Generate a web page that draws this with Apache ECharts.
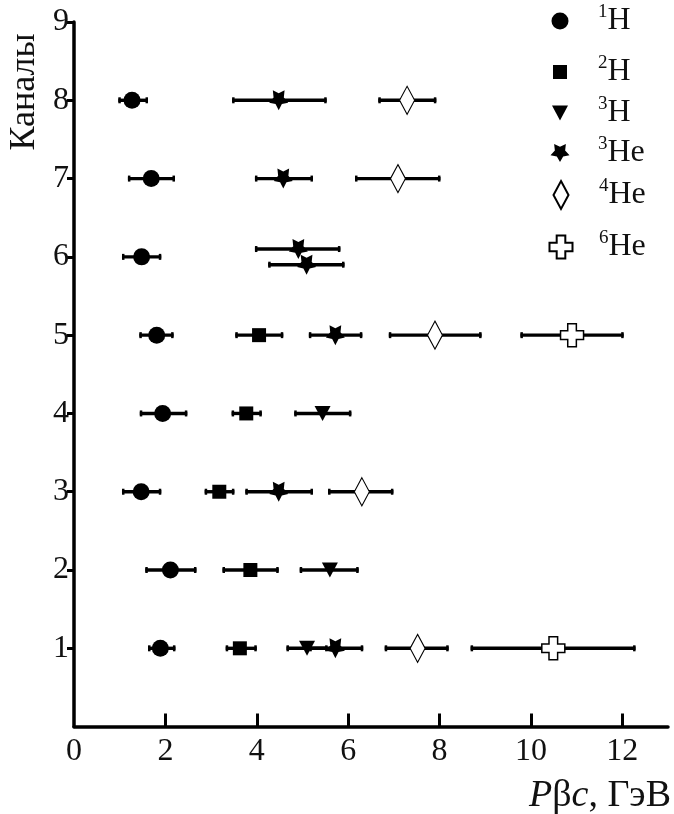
<!DOCTYPE html>
<html>
<head>
<meta charset="utf-8">
<script src="https://cdn.jsdelivr.net/npm/echarts@6/dist/echarts.min.js"></script>
<style>
  html, body { margin: 0; padding: 0; background: #fff; }
  #chart { width: 674px; height: 814px; }
</style>
</head>
<body>
<div id="chart"></div>
<script>
// Axis tick positions and labels
const xTickLabels = [0, 2, 4, 6, 8, 10, 12];
const xTickMarks = [2, 4, 6, 8, 10, 12];
const yTickLabels = [1, 2, 3, 4, 5, 6, 7, 8, 9];

// Pβc values (GeV) with horizontal error ranges, per channel
const h1Channel = [1, 2, 3, 4, 5, 6, 7, 8];
const h1Value   = [1.89, 2.11, 1.47, 1.94, 1.81, 1.48, 1.69, 1.27];
const h1Low     = [1.62, 1.56, 1.05, 1.44, 1.43, 1.05, 1.18, 0.97];
const h1High    = [2.22, 2.68, 1.91, 2.48, 2.18, 1.91, 2.21, 1.62];

const h2Channel = [1, 2, 3, 4, 5];
const h2Value   = [3.63, 3.86, 3.18, 3.77, 4.05];
const h2Low     = [3.32, 3.25, 2.86, 3.45, 3.53];
const h2High    = [4.00, 4.48, 3.51, 4.11, 4.58];

const h3Channel = [1, 2, 4];
const h3Value   = [5.10, 5.60, 5.44];
const h3Low     = [4.65, 4.94, 4.82];
const h3High    = [5.55, 6.23, 6.07];

const he3Channel = [1, 3, 5, 6.1, 5.9, 7, 8];
const he3Value   = [5.72, 4.48, 5.72, 4.91, 5.09, 4.58, 4.48];
const he3Low     = [5.15, 3.75, 5.14, 3.96, 4.25, 3.96, 3.46];
const he3High    = [6.33, 5.23, 6.31, 5.83, 5.92, 5.23, 5.53];

const he4Channel = [1, 3, 5, 7, 8];
const he4Value   = [7.52, 6.30, 7.90, 7.09, 7.29];
const he4Low     = [6.80, 5.56, 6.89, 6.15, 6.66];
const he4High    = [8.20, 6.99, 8.92, 8.02, 7.93];

const he6Channel = [1, 5];
const he6Value   = [10.49, 10.90];
const he6Low     = [8.68, 9.77];
const he6High    = [12.29, 12.03];

// Marker shapes
function starPath() {
  const pts = [];
  for (let i = 0; i < 10; i++) {
    const a = Math.PI / 180 * (180 + i * 36);
    const r = i % 2 === 0 ? 50 : 27;
    pts.push((50 + r * Math.sin(a)).toFixed(2) + ',' + (50 - r * Math.cos(a)).toFixed(2));
  }
  return 'path://M' + pts.join(' L') + ' Z';
}
const downTriangle = 'path://M0,0 L16,0 L8,15 Z';
const plusShape = 'path://M7.5,0 H16.5 V7.5 H24 V16.5 H16.5 V24 H7.5 V16.5 H0 V7.5 H7.5 Z';

const species = [
  { name: '1H',  ch: h1Channel,  v: h1Value,  lo: h1Low,  hi: h1High,
    symbol: 'circle', size: [17, 17], fill: '#000', border: 0, legendTop: 21 },
  { name: '2H',  ch: h2Channel,  v: h2Value,  lo: h2Low,  hi: h2High,
    symbol: 'rect', size: [14, 14], fill: '#000', border: 0, legendTop: 72 },
  { name: '3H',  ch: h3Channel,  v: h3Value,  lo: h3Low,  hi: h3High,
    symbol: downTriangle, size: [16, 15], fill: '#000', border: 0, legendTop: 113 },
  { name: '3He', ch: he3Channel, v: he3Value, lo: he3Low, hi: he3High,
    symbol: starPath(), size: [19, 20], fill: '#000', border: 0, legendTop: 153 },
  { name: '4He', ch: he4Channel, v: he4Value, lo: he4Low, hi: he4High,
    symbol: 'diamond', size: [15, 28], fill: '#fff', border: 1.2, legendTop: 195 },
  { name: '6He', ch: he6Channel, v: he6Value, lo: he6Low, hi: he6High,
    symbol: plusShape, size: [23, 23], fill: '#fff', border: 1.5, legendTop: 247 }
];

const FONT = '"Liberation Serif", "Times New Roman", serif';
const INK = '#111';

const series = [];
species.forEach(function (s) {
  series.push({
    name: s.name + '-range',
    type: 'custom',
    z: 1,
    silent: true,
    encode: { x: [0, 1], y: 2 },
    data: s.ch.map(function (c, i) { return [s.lo[i], s.hi[i], c]; }),
    renderItem: function (params, api) {
      const y = api.value(2);
      const a = api.coord([api.value(0), y]);
      const b = api.coord([api.value(1), y]);
      return {
        type: 'group',
        children: [
          { type: 'line', shape: { x1: a[0], y1: a[1], x2: b[0], y2: b[1] },
            style: { stroke: '#000', lineWidth: 3.4 } },
          { type: 'rect', shape: { x: a[0], y: a[1] - 3, width: 2.5, height: 6 },
            style: { fill: '#000' } },
          { type: 'rect', shape: { x: b[0] - 2.5, y: b[1] - 3, width: 2.5, height: 6 },
            style: { fill: '#000' } }
        ]
      };
    }
  });
  series.push({
    name: s.name,
    type: 'scatter',
    z: 3,
    symbol: s.symbol,
    symbolSize: s.size,
    symbolKeepAspect: false,
    itemStyle: { color: s.fill, borderColor: '#000', borderWidth: s.border, opacity: 1 },
    data: s.ch.map(function (c, i) { return [s.v[i], c]; })
  });
});

// One legend block per species so each row sits at its own height
const legends = species.map(function (s) {
  const w = s.size[0], h = s.size[1];
  const iconX = 560;
  const textStart = 598;
  const pad = textStart - (iconX + w / 2 + 5);
  return {
    show: true,
    data: [s.name],
    orient: 'vertical',
    left: iconX - w / 2,
    top: s.legendTop - 18,
    padding: 0,
    itemWidth: w,
    itemHeight: h,
    selectedMode: false,
    formatter: function (name) {
      const m = name.match(/^(\d)(.*)$/);
      return '{sup|' + m[1] + '}{main|' + m[2] + '}';
    },
    textStyle: {
      rich: {
        sup: { fontFamily: FONT, fontSize: 19, color: INK, lineHeight: 30,
               verticalAlign: 'top', padding: [0, 0, 0, pad] },
        main: { fontFamily: FONT, fontSize: 32, color: INK, lineHeight: 36,
                verticalAlign: 'middle' }
      }
    }
  };
});

const chart = echarts.init(document.getElementById('chart'), null, { renderer: 'canvas' });
chart.setOption({
  backgroundColor: '#fff',
  animation: false,
  grid: { left: 74, right: 6, top: 22, bottom: 87.4, containLabel: false },
  legend: legends,
  xAxis: {
    type: 'value',
    min: 0,
    max: 13,
    axisLine: { show: true, onZero: false, lineStyle: { color: '#000', width: 3.5 } },
    axisTick: { show: true, inside: true, length: 13, customValues: xTickMarks,
                lineStyle: { color: '#000', width: 3 } },
    axisLabel: { customValues: xTickLabels, fontFamily: FONT, fontSize: 32, color: INK, margin: 9 },
    splitLine: { show: false }
  },
  yAxis: {
    type: 'value',
    min: 0,
    max: 9,
    axisLine: { show: true, onZero: false, lineStyle: { color: '#000', width: 3.5 } },
    axisTick: { show: true, inside: false, length: 7, customValues: yTickLabels,
                lineStyle: { color: '#000', width: 3 } },
    axisLabel: { customValues: yTickLabels, fontFamily: FONT, fontSize: 32, color: INK, margin: 5 },
    splitLine: { show: false }
  },
  graphic: [
    {
      type: 'text',
      x: 25, y: 92,
      rotation: Math.PI / 2,
      style: { text: 'Каналы', font: '36px ' + FONT, fill: INK, align: 'center', verticalAlign: 'middle' }
    },
    {
      type: 'text',
      x: 671, y: 796,
      style: {
        text: '{i|P}{n|β}{i|c}{n|, ГэВ}',
        align: 'right',
        verticalAlign: 'middle',
        rich: {
          i: { fontFamily: FONT, fontStyle: 'italic', fontSize: 38, fill: INK, color: INK },
          n: { fontFamily: FONT, fontSize: 38, fill: INK, color: INK }
        }
      }
    }
  ],
  series: series
});
</script>
</body>
</html>
